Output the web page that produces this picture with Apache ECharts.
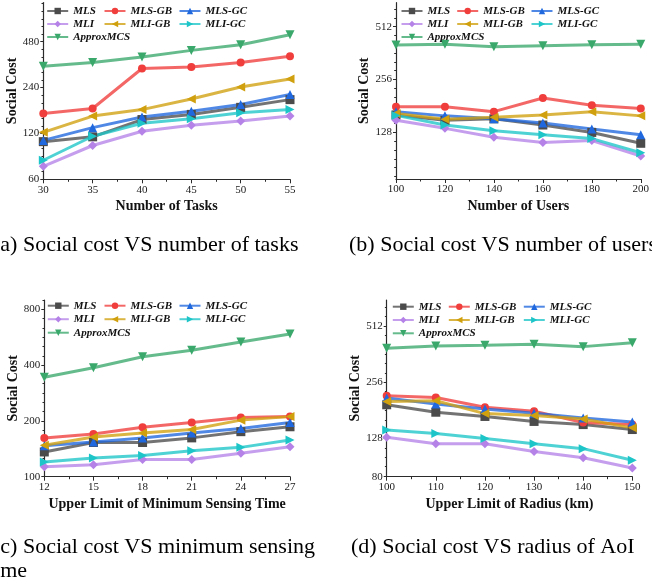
<!DOCTYPE html>
<html><head><meta charset="utf-8">
<script src="https://cdn.jsdelivr.net/npm/echarts@6/dist/echarts.min.js"></script>
<style>html,body{margin:0;padding:0;background:#fff}#c{width:652px;height:587px}</style>
</head><body><div id="c"></div>
<script>
const seriesNames = ['MLS','MLS-GB','MLS-GC','MLI','MLI-GB','MLI-GC','ApproxMCS'];

// (a) number of tasks
const tasks = [30,35,40,45,50,55];
const tasksMLS    = [106,114,148,160,178,200];
const tasksMLSGB  = [162,175,320,327,350,385];
const tasksMLSGC  = [108,131,154,168,186,216];
const tasksMLI    = [73,100,124,136,145,156];
const tasksMLIGB  = [122,156,172,202,242,273];
const tasksMLIGC  = [80,115,140,150,164,172];
const tasksApprox = [331,351,381,421,459,533];
const tasksYTicks = [60,120,240,480];

// (b) number of users
const users = [100,120,140,160,180,200];
const usersMLS    = [161,150,153,141,128,111];
const usersMLSGB  = [179,179,168,201,183,175];
const usersMLSGC  = [168,159,153,145,134,124];
const usersMLI    = [150,135,120,112,115,94];
const usersMLIGB  = [164,152,156,161,168,159];
const usersMLIGC  = [160,141,131,124,118,98];
const usersApprox = [402,406,394,399,404,406];
const usersYTicks = [128,256,512];

// (c) upper limit of minimum sensing time
const senseTime = [12,15,18,21,24,27];
const timeMLS    = [136,153,153,162,175,186];
const timeMLSGB  = [162,170,185,196,209,211];
const timeMLSGC  = [147,154,162,172,182,196];
const timeMLI    = [113,116,124,124,134,145];
const timeMLIGB  = [148,164,172,180,202,211];
const timeMLIGC  = [120,126,130,138,144,158];
const timeApprox = [344,387,444,482,533,589];
const timeYTicks = [100,200,400,800];

// (d) upper limit of radius
const radius = [100,110,120,130,140,150];
const radiusMLS    = [194,177,168,158,152,143];
const radiusMLSGB  = [217,212,188,179,156,152];
const radiusMLSGC  = [211,196,184,175,165,157];
const radiusMLI    = [130,120,120,109,101,89];
const radiusMLIGB  = [202,204,174,170,163,146];
const radiusMLIGC  = [142,136,128,120,113,98];
const radiusApprox = [389,400,404,409,397,417];
const radiusYTicks = [80,128,256,512];

const captions = [
  '(a) Social cost VS number of tasks',
  '(b) Social cost VS number of users',
  '(c) Social cost VS minimum sensing',
  'time',
  '(d) Social cost VS radius of AoI'
];

const styles = [
  {color:'#4b4b4b', symbol:'rect', rot:0},
  {color:'#ef3e3c', symbol:'circle', rot:0},
  {color:'#1f68de', symbol:'triangle', rot:0},
  {color:'#b583e8', symbol:'diamond', rot:0},
  {color:'#d1a00e', symbol:'triangle', rot:90},
  {color:'#1ec5c8', symbol:'triangle', rot:-90},
  {color:'#3aa86b', symbol:'triangle', rot:180}
];

const panels = [
  {x:tasks, ys:[tasksMLS,tasksMLSGB,tasksMLSGC,tasksMLI,tasksMLIGB,tasksMLIGC,tasksApprox],
   yt:tasksYTicks, grid:{left:43.3, top:2.5, width:246.7, height:176.8},
   xmin:30, xmax:55, xint:5, ymin:60, ymax:868, xname:'Number of Tasks', xgap:20, ygap:23,
   leg:{cols:[46.2,103.5,178.5], top:4.5, gap:0}},
  {x:users, ys:[usersMLS,usersMLSGB,usersMLSGC,usersMLI,usersMLIGB,usersMLIGC,usersApprox],
   yt:usersYTicks, grid:{left:396, top:2.7, width:245.7, height:176.3},
   xmin:100, xmax:200, xint:20, ymin:69.5, ymax:701, xname:'Number of Users', xgap:20, ygap:22,
   leg:{cols:[400.5,456.2,530.5], top:4.5, gap:0}},
  {x:senseTime, ys:[timeMLS,timeMLSGB,timeMLSGC,timeMLI,timeMLIGB,timeMLIGC,timeApprox],
   yt:timeYTicks, grid:{left:44.3, top:300, width:245.7, height:176.7},
   xmin:12, xmax:27, xint:3, ymin:100, ymax:899, xname:'Upper Limit of Minimum Sensing Time', xgap:21, ygap:24,
   leg:{cols:[46.8,103.5,178.5], top:299.2, gap:0.5}},
  {x:radius, ys:[radiusMLS,radiusMLSGB,radiusMLSGC,radiusMLI,radiusMLIGB,radiusMLIGC,radiusApprox],
   yt:radiusYTicks, grid:{left:386.7, top:300, width:245.6, height:176.7},
   xmin:100, xmax:150, xint:10, ymin:80, ymax:705, xname:'Upper Limit of Radius (km)', xgap:21, ygap:23,
   leg:{cols:[391.8,447.8,522.8], top:300.2, gap:0.3}}
];

// minor ticks on the log2 axes: evenly spaced (in log space) between doublings of the top major tick
function minorTicks(majors, lo, hi, sub) {
  const ref = majors[majors.length - 1];
  const out = [];
  for (let k = -8 * sub; k <= 4 * sub; k++) {
    if (k % sub === 0) continue;
    const v = ref * Math.pow(2, k / sub);
    if (v > lo * 1.001 && v < hi * 0.999) out.push(v);
  }
  return out;
}

const serif = 'Liberation Serif';
const axisColor = '#2b2b2b';
const grids = [], xAxes = [], yAxes = [], series = [], legends = [];
const legendCols = [['MLS','MLI','ApproxMCS'],['MLS-GB','MLI-GB'],['MLS-GC','MLI-GC']];

panels.forEach((p, i) => {
  grids.push(Object.assign({containLabel:false}, p.grid));
  xAxes.push({
    type:'value', gridIndex:i, min:p.xmin, max:p.xmax, interval:p.xint,
    axisLine:{show:true, onZero:false, lineStyle:{color:axisColor, width:1.2}},
    axisTick:{show:true, length:4, lineStyle:{color:axisColor, width:1}},
    minorTick:{show:true, splitNumber:2, length:2.5, lineStyle:{color:axisColor, width:1}},
    splitLine:{show:false}, minorSplitLine:{show:false},
    axisLabel:{fontFamily:serif, fontSize:11, color:'#1a1a1a', margin:5},
    name:p.xname, nameLocation:'middle', nameGap:p.xgap,
    nameTextStyle:{fontFamily:serif, fontWeight:'bold', fontSize:14, color:'#111'}
  });
  yAxes.push({
    type:'log', logBase:2, gridIndex:i, min:p.ymin, max:p.ymax, position:'left',
    axisLine:{show:true, lineStyle:{color:axisColor, width:1.2}},
    axisTick:{show:true, length:3, customValues:p.yt, lineStyle:{color:axisColor, width:1}},
    minorTick:{show:false},
    splitLine:{show:false}, minorSplitLine:{show:false},
    axisLabel:{customValues:p.yt, fontFamily:serif, fontSize:11, color:'#1a1a1a', margin:4},
    name:'Social Cost', nameLocation:'middle', nameGap:p.ygap,
    nameTextStyle:{fontFamily:serif, fontWeight:'bold', fontSize:14, color:'#111'}
  });
  p.yIndex = yAxes.length - 1;
});

// overlay axes carrying the small minor ticks
panels.forEach((p, i) => {
  yAxes.push({
    type:'log', logBase:2, gridIndex:i, min:p.ymin, max:p.ymax, position:'left', offset:0,
    axisLine:{show:false},
    axisTick:{show:true, length:1.8, customValues:minorTicks(p.yt, p.ymin, p.ymax, 6), lineStyle:{color:axisColor, width:1}},
    axisLabel:{show:false}, splitLine:{show:false}, minorTick:{show:false}
  });
});

panels.forEach((p, i) => {
  p.ys.forEach((arr, k) => {
    const st = styles[k];
    series.push({
      type:'line', name:seriesNames[k], xAxisIndex:i, yAxisIndex:p.yIndex,
      data:p.x.map((xv, j) => [xv, arr[j]]),
      symbol:st.symbol, symbolRotate:st.rot, symbolSize:st.symbol==='circle'?8:9,
      lineStyle:{color:st.color, width:3, opacity:0.78},
      itemStyle:{color:st.color},
      emphasis:{disabled:true}, silent:true
    });
  });
  legendCols.forEach((col, c) => {
    legends.push({
      orient:'vertical', left:p.leg.cols[c], top:p.leg.top, padding:0,
      itemGap:p.leg.gap, itemWidth:21, itemHeight:8, selectedMode:false,
      data:col,
      textStyle:{fontFamily:serif, fontStyle:'italic', fontWeight:'bold', fontSize:11, color:'#111', lineHeight:13}
    });
  });
});

const capFont = '22px "Liberation Serif"';
const graphic = [
  {type:'text', left:-7, top:234, style:{text:captions[0], font:capFont, fill:'#000'}},
  {type:'text', left:349, top:234, style:{text:captions[1], font:capFont, fill:'#000'}},
  {type:'text', left:-7, top:536, style:{text:captions[2], font:capFont, fill:'#000'}},
  {type:'text', left:-12, top:560, style:{text:captions[3], font:capFont, fill:'#000'}},
  {type:'text', left:351, top:536, style:{text:captions[4], font:capFont, fill:'#000'}}
];

const chart = echarts.init(document.getElementById('c'), null, {renderer:'canvas'});
chart.setOption({
  animation:false, backgroundColor:'#fff',
  grid:grids, xAxis:xAxes, yAxis:yAxes, series:series, legend:legends, graphic:graphic
});
</script></body></html>
